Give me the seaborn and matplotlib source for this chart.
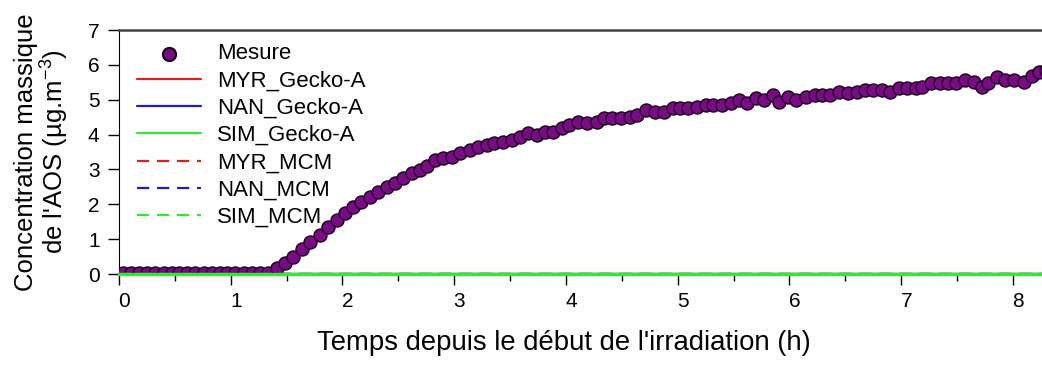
import numpy as np
import pandas as pd
import matplotlib
matplotlib.use("Agg")
import matplotlib.pyplot as plt
import matplotlib.transforms as mtransforms
import seaborn as sns

# Measured SOA mass concentration (time in hours since start of irradiation)
mesure_temps = [
    0.04, 0.11, 0.18, 0.25, 0.32, 0.40, 0.47, 0.54, 0.61, 0.68,
    0.76, 0.83, 0.90, 0.97, 1.04, 1.12, 1.19, 1.26, 1.33,
    1.41, 1.49, 1.56, 1.64, 1.71, 1.80, 1.87, 1.95, 2.02, 2.09,
    2.17, 2.25, 2.32, 2.40, 2.47, 2.54, 2.62, 2.69, 2.76, 2.83,
    2.90, 2.98, 3.05, 3.14, 3.21, 3.29, 3.36, 3.44, 3.52, 3.59,
    3.66, 3.74, 3.81, 3.88, 3.96, 4.03, 4.11, 4.19, 4.28, 4.34,
    4.41, 4.49, 4.57, 4.64, 4.72, 4.80, 4.88, 4.96, 5.02, 5.09,
    5.17, 5.25, 5.32, 5.40, 5.48, 5.55, 5.62, 5.70, 5.77, 5.85,
    5.91, 5.99, 6.06, 6.15, 6.23, 6.29, 6.36, 6.44, 6.52, 6.60,
    6.68, 6.75, 6.83, 6.90, 6.98, 7.05, 7.13, 7.19, 7.27, 7.35,
    7.42, 7.49, 7.57, 7.65, 7.72, 7.78, 7.86, 7.93, 8.01, 8.10,
    8.17, 8.23, 8.30,
]
mesure_aos = [
    0.02, 0.02, 0.02, 0.02, 0.02, 0.02, 0.02, 0.02, 0.02, 0.02,
    0.02, 0.02, 0.02, 0.02, 0.02, 0.02, 0.02, 0.02, 0.03,
    0.17, 0.32, 0.49, 0.72, 0.92, 1.12, 1.35, 1.55, 1.75, 1.92,
    2.07, 2.21, 2.35, 2.50, 2.61, 2.75, 2.90, 2.98, 3.10, 3.27,
    3.33, 3.36, 3.47, 3.56, 3.64, 3.70, 3.76, 3.79, 3.84, 3.93,
    4.04, 3.99, 4.07, 4.07, 4.19, 4.27, 4.36, 4.33, 4.36, 4.47,
    4.47, 4.47, 4.50, 4.56, 4.70, 4.65, 4.65, 4.76, 4.76, 4.76,
    4.79, 4.85, 4.85, 4.85, 4.90, 4.99, 4.90, 5.05, 4.99, 5.13,
    4.93, 5.08, 4.99, 5.08, 5.13, 5.13, 5.13, 5.22, 5.19, 5.22,
    5.28, 5.28, 5.28, 5.22, 5.33, 5.33, 5.33, 5.36, 5.48, 5.48,
    5.48, 5.48, 5.56, 5.51, 5.36, 5.48, 5.65, 5.56, 5.56, 5.51,
    5.68, 5.79, 5.85,
]

# Model simulations (Gecko-A and MCM) for the three scenarios
modele_temps = [0.0, 8.5]
myr_gecko = [0.0, 0.0]
nan_gecko = [0.0, 0.0]
sim_gecko = [0.0, 0.0]
myr_mcm = [0.0, 0.0]
nan_mcm = [0.0, 0.0]
sim_mcm = [0.0, 0.0]

sns.set_style("ticks")
plt.rcParams["font.family"] = ["Liberation Sans", "DejaVu Sans"]
plt.rcParams["mathtext.fontset"] = "custom"
plt.rcParams["mathtext.rm"] = "Liberation Sans"
plt.rcParams["mathtext.it"] = "Liberation Sans"
plt.rcParams["text.color"] = "black"
plt.rcParams["axes.labelcolor"] = "black"
plt.rcParams["xtick.color"] = "black"
plt.rcParams["ytick.color"] = "black"

fig = plt.figure(figsize=(10.42, 3.65), dpi=100)
ax = fig.add_axes([119 / 1042, 1 - 274 / 365, 1 - 119 / 1042, 244 / 365])

df_mes = pd.DataFrame({"t": mesure_temps, "c": mesure_aos})
sns.scatterplot(data=df_mes, x="t", y="c", ax=ax, s=88, color="#7b0a86",
                edgecolor="#1a001c", linewidth=1.0, zorder=3,
                label="Mesure")

dash = (0, (5.5, 3.5))
modeles = [
    ("MYR_Gecko-A", myr_gecko, "#e02020", "-"),
    ("NAN_Gecko-A", nan_gecko, "#1c1ccc", "-"),
    ("SIM_Gecko-A", sim_gecko, "#33e833", "-"),
    ("MYR_MCM", myr_mcm, "#e02020", dash),
    ("NAN_MCM", nan_mcm, "#1c1ccc", dash),
    ("SIM_MCM", sim_mcm, "#33e833", dash),
]
for i, (nom, vals, col, ls) in enumerate(modeles):
    df_m = pd.DataFrame({"t": modele_temps, "c": vals})
    lw = 2.4 if nom == "SIM_Gecko-A" else 1.6
    sns.lineplot(data=df_m, x="t", y="c", ax=ax, color=col, linestyle=ls,
                 linewidth=lw, label=nom,
                 zorder=10 if nom == "SIM_Gecko-A" else 4 + i)
for ln in ax.lines:
    ln.set_clip_on(False)

ax.set_xlim(0, 8.26)
ax.set_ylim(0, 7)
ax.set_xticks(range(0, 9))
ax.set_xticks(np.arange(0.5, 8.5, 1.0), minor=True)
ax.set_yticks(range(0, 8))
ax.tick_params(axis="both", which="major", direction="out", length=8,
               width=1, labelsize=15)
ax.tick_params(axis="x", which="major", pad=5)
ax.tick_params(axis="y", which="major", pad=6)
ax.tick_params(axis="x", which="minor", direction="out", length=5, width=1)

# x tick labels sit a few pixels right of their ticks
shift = mtransforms.ScaledTranslation(5 / 100, 0, fig.dpi_scale_trans)
for lab in ax.get_xticklabels():
    lab.set_transform(lab.get_transform() + shift)

ax.spines["right"].set_visible(False)
ax.spines["top"].set_color("#444444")
ax.spines["top"].set_linewidth(1.8)
ax.spines["left"].set_color("black")
ax.spines["bottom"].set_color("black")

ax.set_xlabel("Temps depuis le début de l'irradiation (h)", fontsize=19.8)
ax.xaxis.set_label_coords((564 - 119) / 923, -0.283)
ax.xaxis.label.set_va("center")
ax.set_ylabel("Concentration massique\nde l'AOS (µg.m$^{-3}$)", fontsize=18.5,
              labelpad=12, linespacing=1.05)

handles, labels = ax.get_legend_handles_labels()
leg = ax.legend(handles, labels, loc="upper left",
                bbox_to_anchor=(0.0195, 0.945), frameon=False, fontsize=16,
                handlelength=2.9, handletextpad=0.7, labelspacing=0.28,
                borderpad=0, borderaxespad=0, markerscale=1.0)
for h in leg.legend_handles:
    if hasattr(h, "set_linewidth"):
        h.set_linewidth(1.6)

fig.savefig("out.png", dpi=100)
